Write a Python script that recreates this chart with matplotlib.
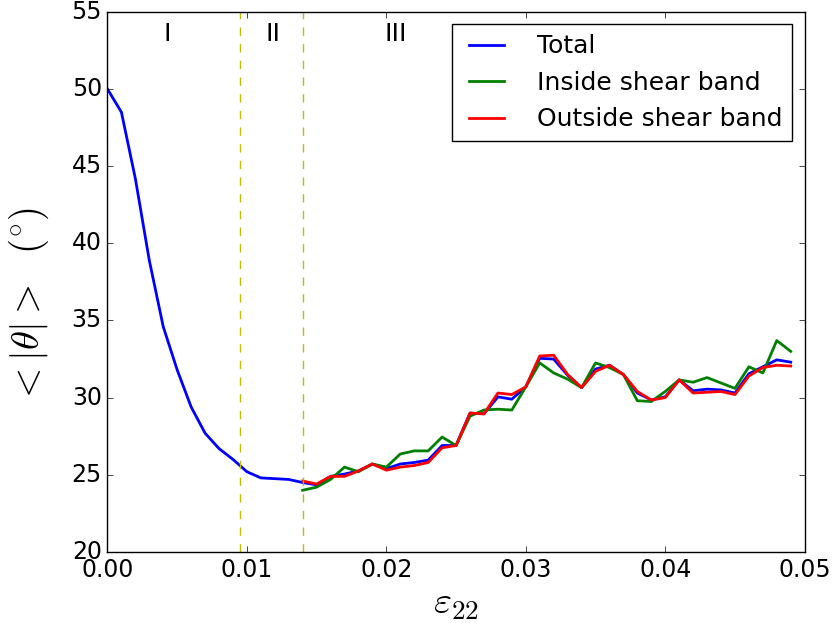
import numpy as np
import matplotlib
matplotlib.use('Agg')
import matplotlib.pyplot as plt

plt.style.use('classic')
plt.rcParams['mathtext.fontset'] = 'cm'

# strain values
strain_total = np.arange(0, 0.0495, 0.001)
strain_band = np.arange(0.014, 0.0495, 0.001)

total = [50.0, 48.5, 44.2, 38.9, 34.6, 31.8, 29.4, 27.7, 26.7, 26.0,
         25.2, 24.8, 24.75, 24.7, 24.5, 24.35, 24.9, 25.05, 25.25, 25.7,
         25.4, 25.7, 25.8, 25.95, 26.9, 26.9, 29.0, 28.95, 30.05, 29.9,
         30.7, 32.55, 32.5, 31.45, 30.65, 31.85, 32.1, 31.5, 30.3, 29.85,
         30.05, 31.15, 30.45, 30.55, 30.5, 30.3, 31.55, 32.0, 32.45, 32.3]

inside = [24.0, 24.2, 24.7, 25.5, 25.2, 25.7, 25.5, 26.35, 26.55, 26.55,
          27.45, 26.9, 28.8, 29.2, 29.25, 29.2, 30.7, 32.25, 31.6, 31.2,
          30.65, 32.25, 31.95, 31.5, 29.8, 29.75, 30.4, 31.15, 31.0, 31.3,
          30.95, 30.6, 32.0, 31.6, 33.7, 33.0]

outside = [24.6, 24.4, 24.9, 24.9, 25.25, 25.7, 25.3, 25.5, 25.6, 25.8,
           26.75, 26.9, 29.0, 28.95, 30.3, 30.2, 30.7, 32.7, 32.75, 31.5,
           30.65, 31.7, 32.1, 31.5, 30.4, 29.85, 30.0, 31.15, 30.3, 30.35,
           30.4, 30.2, 31.4, 31.95, 32.1, 32.05]

stage_bounds = [0.0095, 0.014]
stage_labels = ['I', 'II', 'III']
stage_label_x = [0.0043, 0.0119, 0.0207]

fig = plt.figure(figsize=(8.33, 6.23), dpi=100, facecolor='white')
ax = fig.add_axes([0.129, 0.114, 0.837, 0.867])

ax.plot(strain_total, total, color='b', lw=2, label='Total')
ax.plot(strain_band, inside, color='g', lw=2, label='Inside shear band')
ax.plot(strain_band, outside, color='r', lw=2, label='Outside shear band')

for xb in stage_bounds:
    ax.axvline(xb, color='y', linestyle='--', lw=1)
for xl, lab in zip(stage_label_x, stage_labels):
    ax.text(xl, 53.55, lab, fontsize=18, ha='center', va='center')

ax.set_xlim(0, 0.05)
ax.set_ylim(20, 55)
ax.set_xticks([0, 0.01, 0.02, 0.03, 0.04, 0.05])
ax.set_xticklabels(['0.00', '0.01', '0.02', '0.03', '0.04', '0.05'])
ax.tick_params(labelsize=17)
ax.set_xlabel(r'$\varepsilon_{22}$', fontsize=28, labelpad=2)
ax.set_ylabel(r'$<|\theta|>\ \ (^{\circ})$', fontsize=28)
ax.yaxis.set_label_coords(-0.081, 0.456)

ax.legend(loc='upper right', fontsize=18, handletextpad=1.0)

fig.savefig('out.png', dpi=100, facecolor='white')
